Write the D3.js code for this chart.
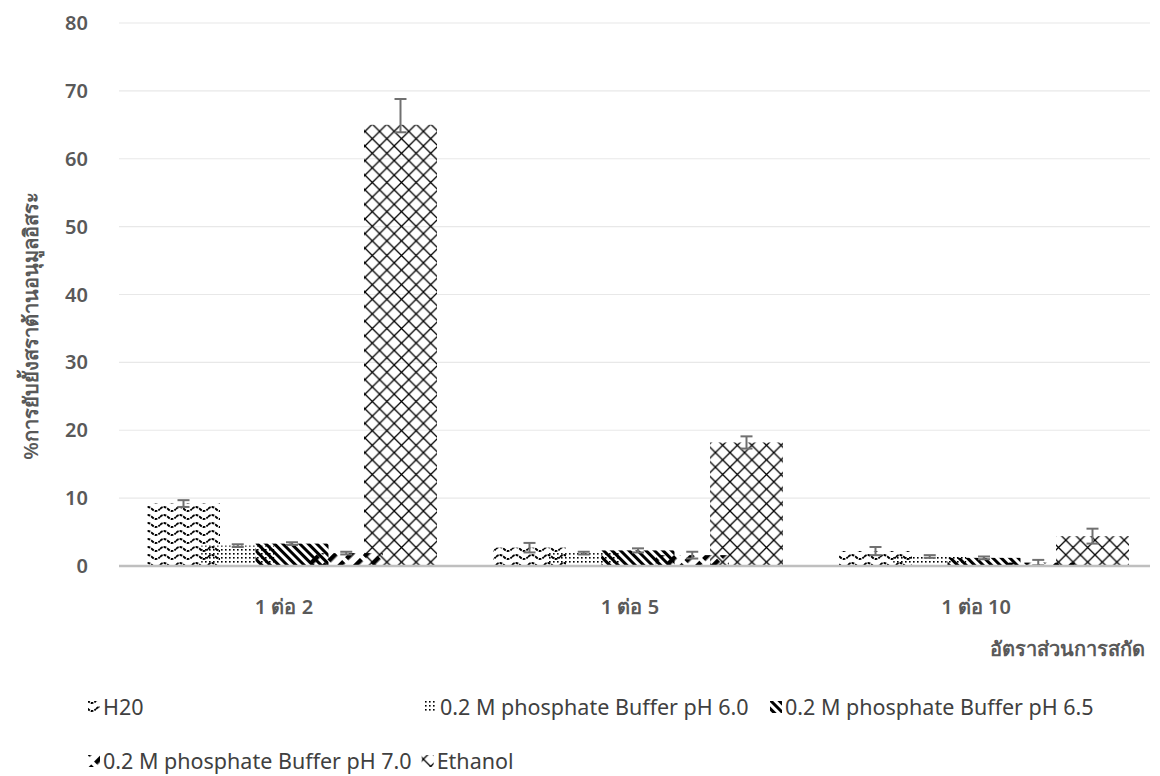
<!DOCTYPE html>
<html>
<head>
<meta charset="utf-8">
<script src="https://cdn.jsdelivr.net/npm/d3@7"></script>
<style>
  body { margin: 0; background: #fff; }
  text { font-family: "Noto Sans", "DejaVu Sans", sans-serif; }
</style>
</head>
<body>
<div id="chart"></div>
<script>
// Data
const categories = ["1 ต่อ 2", "1 ต่อ 5", "1 ต่อ 10"];
const seriesNames = ["H20", "0.2 M phosphate Buffer pH 6.0", "0.2 M phosphate Buffer pH 6.5",
                     "0.2 M phosphate Buffer pH 7.0", "Ethanol"];
const h20Values   = [9.2, 2.7, 2.2];
const pH60Values  = [3.0, 1.9, 1.4];
const pH65Values  = [3.3, 2.3, 1.2];
const pH70Values  = [1.9, 1.6, 0.5];
const ethValues   = [65.0, 18.2, 4.4];
// error bars (plus / minus)
const h20ErrUp  = [0.5, 0.7, 0.6],  h20ErrDn  = [0.5, 0.7, 0.6];
const pH60ErrUp = [0.2, 0.2, 0.2],  pH60ErrDn = [0.2, 0.2, 0.2];
const pH65ErrUp = [0.2, 0.3, 0.2],  pH65ErrDn = [0.2, 0.3, 0.2];
const pH70ErrUp = [0.2, 0.5, 0.4],  pH70ErrDn = [0.2, 0.5, 0.4];
const ethErrUp  = [3.8, 0.9, 1.1],  ethErrDn  = [1.1, 0.9, 1.1];
const yTicks = [0, 10, 20, 30, 40, 50, 60, 70, 80];

const allValues = [h20Values, pH60Values, pH65Values, pH70Values, ethValues];
const allUp = [h20ErrUp, pH60ErrUp, pH65ErrUp, pH70ErrUp, ethErrUp];
const allDn = [h20ErrDn, pH60ErrDn, pH65ErrDn, pH70ErrDn, ethErrDn];
const patternIds = ["p-wave", "p-dots", "p-wdown", "p-dashup", "p-diamond"];

const data = [];
seriesNames.forEach((s, i) => {
  categories.forEach((c, j) => {
    data.push({ series: s, cat: c, value: allValues[i][j], up: allUp[i][j], dn: allDn[i][j], idx: i });
  });
});

const W = 1160, H = 776;
const svg = d3.select("#chart")
  .append("svg")
  .attr("width", W)
  .attr("height", H);

svg.append("rect").attr("width", W).attr("height", H).attr("fill", "#fff");

// Patterns
const defs = svg.append("defs");

const wave = defs.append("pattern").attr("id", "p-wave")
  .attr("patternUnits", "userSpaceOnUse").attr("width", 16).attr("height", 8);
wave.append("path")
  .attr("d", "M0,5 Q4,1 8,5 T16,5")
  .attr("fill", "none").attr("stroke", "#000").attr("stroke-width", 1.8)
  .attr("stroke-dasharray", "3,1");

const dots = defs.append("pattern").attr("id", "p-dots")
  .attr("patternUnits", "userSpaceOnUse").attr("width", 4).attr("height", 4);
dots.append("rect").attr("x", 1).attr("y", 1).attr("width", 1.6).attr("height", 1.6).attr("fill", "#000");

const wdown = defs.append("pattern").attr("id", "p-wdown")
  .attr("patternUnits", "userSpaceOnUse").attr("width", 6).attr("height", 6)
  .attr("patternTransform", "rotate(-45)");
wdown.append("rect").attr("x", 0).attr("y", 0).attr("width", 3).attr("height", 6).attr("fill", "#000");

const dashup = defs.append("pattern").attr("id", "p-dashup")
  .attr("patternUnits", "userSpaceOnUse").attr("width", 11).attr("height", 14)
  .attr("patternTransform", "rotate(45)");
dashup.append("rect").attr("x", 0).attr("y", 0).attr("width", 4.5).attr("height", 10).attr("fill", "#000");

const diamond = defs.append("pattern").attr("id", "p-diamond")
  .attr("patternUnits", "userSpaceOnUse").attr("width", 14.6).attr("height", 14.6);
diamond.append("path")
  .attr("d", "M0,0 L14.6,14.6 M14.6,0 L0,14.6")
  .attr("fill", "none").attr("stroke", "#000").attr("stroke-width", 1.3);

// Scales
const x0 = d3.scaleBand()
  .domain(categories)
  .range([119, 1157]);

const x1 = d3.scalePoint()
  .domain(seriesNames)
  .range([-108.5, 108.5]);
const barW = 73;

const y = d3.scaleLinear()
  .domain([0, 80])
  .range([566, 23]);

// Gridlines
svg.append("g")
  .selectAll("line")
  .data(yTicks.filter(t => t > 0))
  .join("line")
  .attr("x1", 119).attr("x2", 1150)
  .attr("y1", d => y(d)).attr("y2", d => y(d))
  .attr("stroke", "#e8e8e8").attr("stroke-width", 1.2);

// Y axis tick labels
svg.append("g")
  .selectAll("text")
  .data(yTicks)
  .join("text")
  .attr("x", 88)
  .attr("y", d => y(d))
  .attr("dy", "0.35em")
  .attr("text-anchor", "end")
  .attr("fill", "#595959")
  .style("font-size", "20px")
  .style("font-weight", "600")
  .text(d => d);

// Bars
svg.append("g")
  .selectAll("rect")
  .data(data)
  .join("rect")
  .attr("x", d => x0(d.cat) + x0.bandwidth() / 2 + x1(d.series) - barW / 2)
  .attr("y", d => y(d.value))
  .attr("width", barW)
  .attr("height", d => y(0) - y(d.value))
  .attr("fill", d => `url(#${patternIds[d.idx]})`);

// Error bars
const eb = svg.append("g").attr("stroke", "#707070").attr("stroke-width", 2);
data.forEach(d => {
  const cx = x0(d.cat) + x0.bandwidth() / 2 + x1(d.series);
  const yt = y(d.value + d.up), yb = y(Math.max(0, d.value - d.dn));
  eb.append("line").attr("x1", cx).attr("x2", cx).attr("y1", yt).attr("y2", yb);
  eb.append("line").attr("x1", cx - 6).attr("x2", cx + 6).attr("y1", yt).attr("y2", yt);
  eb.append("line").attr("x1", cx - 6).attr("x2", cx + 6).attr("y1", yb).attr("y2", yb);
});

// Baseline
svg.append("line")
  .attr("x1", 119).attr("x2", 1150)
  .attr("y1", y(0)).attr("y2", y(0))
  .attr("stroke", "#bfbfbf").attr("stroke-width", 2.5);

// Category labels
svg.append("g")
  .selectAll("text")
  .data(categories)
  .join("text")
  .attr("x", d => x0(d) + x0.bandwidth() / 2 - 8)
  .attr("y", 614)
  .attr("text-anchor", "middle")
  .attr("fill", "#595959")
  .style("font-size", "20px")
  .style("font-weight", "600")
  .text(d => d);

// Axis titles
svg.append("text")
  .attr("x", 1145)
  .attr("y", 656)
  .attr("text-anchor", "end")
  .attr("fill", "#595959")
  .style("font-size", "20px")
  .style("font-weight", "600")
  .text("อัตราส่วนการสกัด");

svg.append("text")
  .attr("transform", "rotate(-90)")
  .attr("x", -326)
  .attr("y", 38)
  .attr("text-anchor", "middle")
  .attr("fill", "#595959")
  .style("font-size", "20px")
  .style("font-weight", "600")
  .text("%การยับยั้งสราต้านอนุมูลอิสระ");

// Legend: first row in columns, second row flows
const legendCols = [88, 425, 770];
const legendRowY = [707, 761];
const legend = svg.append("g");
let flowX = 88;
seriesNames.forEach((s, i) => {
  const row = i < 3 ? 0 : 1;
  const lx = row === 0 ? legendCols[i] : flowX;
  const ly = legendRowY[row];
  legend.append("rect")
    .attr("x", lx)
    .attr("y", ly - 6)
    .attr("width", 12)
    .attr("height", 12)
    .attr("fill", `url(#${patternIds[i]})`);
  const t = legend.append("text")
    .attr("x", lx + 15)
    .attr("y", ly)
    .attr("dy", "0.35em")
    .attr("fill", "#404040")
    .style("font-size", "21.5px")
    .text(s);
  if (row === 1) flowX = lx + 15 + t.node().getComputedTextLength() + 10;
});
</script>
</body>
</html>
